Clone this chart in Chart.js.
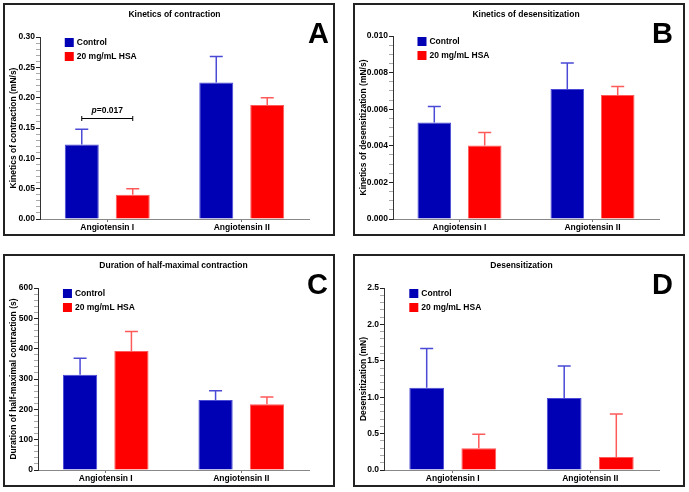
<!DOCTYPE html>
<html>
<head>
<meta charset="utf-8">
<script src="https://cdn.jsdelivr.net/npm/chart.js@4.4.0/dist/chart.umd.min.js"></script>
<style>
  body { margin: 0; background: #fff; }
  .panel { position: absolute; width: 332px; height: 233px; border: 2px solid #222; box-sizing: border-box; background: #fff; }
  canvas { display: block; }
</style>
</head>
<body>
<div class="panel" style="left:3px;top:3px"><canvas id="chartA" width="328" height="229"></canvas></div>
<div class="panel" style="left:353px;top:3px"><canvas id="chartB" width="328" height="229"></canvas></div>
<div class="panel" style="left:3px;top:254px"><canvas id="chartC" width="328" height="229"></canvas></div>
<div class="panel" style="left:353px;top:254px"><canvas id="chartD" width="328" height="229"></canvas></div>
<script>
// ===========================
// DATA
// ===========================
const categories = ["Angiotensin I", "Angiotensin II"];
const seriesNames = ["Control", "20 mg/mL HSA"];

// A - kinetics of contraction (mN/s), mean and upper error
const contractionControl = [0.123, 0.225];
const contractionControlErr = [0.025, 0.043];
const contractionHsa = [0.040, 0.188];
const contractionHsaErr = [0.010, 0.012];

// B - kinetics of desensitization (mN/s)
const desensKineticsControl = [0.00527, 0.00711];
const desensKineticsControlErr = [0.00088, 0.00141];
const desensKineticsHsa = [0.00401, 0.00677];
const desensKineticsHsaErr = [0.00071, 0.00047];

// C - duration of half-maximal contraction (s)
const durationControl = [314, 231];
const durationControlErr = [54, 30];
const durationHsa = [392, 217];
const durationHsaErr = [65, 24];

// D - desensitization (mN)
const desensControl = [1.13, 0.99];
const desensControlErr = [0.54, 0.44];
const desensHsa = [0.30, 0.18];
const desensHsaErr = [0.19, 0.59];

const FONT = "'Liberation Sans', Arial, sans-serif";
const BLUE = "#0000b4", BLUE_EDGE = "#4a4ad6";
const RED = "#ff0000", RED_EDGE = "#ff5a5a";

// ===========================
// DRAW TITLES, LEGEND, ERROR BARS
// ===========================
const panelDecor = {
    id: "panelDecor",
    afterDatasetsDraw(chart, args, opts) {
        const ctx = chart.ctx;
        const area = chart.chartArea;
        const y = chart.scales.y;

        // error bars (upper only)
        chart.data.datasets.forEach((ds, i) => {
            const meta = chart.getDatasetMeta(i);
            meta.data.forEach((bar, j) => {
                const top = y.getPixelForValue(ds.data[j] + ds.errors[j]);
                ctx.save();
                ctx.strokeStyle = ds.errorColor;
                ctx.lineWidth = 1.5;
                ctx.beginPath();
                ctx.moveTo(bar.x, bar.y);
                ctx.lineTo(bar.x, top);
                ctx.moveTo(bar.x - 6.5, top);
                ctx.lineTo(bar.x + 6.5, top);
                ctx.stroke();
                ctx.restore();
            });
        });

        ctx.save();
        ctx.fillStyle = "#000";

        // panel title
        ctx.font = "bold 8.5px " + FONT;
        ctx.textAlign = "center";
        ctx.textBaseline = "middle";
        ctx.fillText(opts.title, (area.left + area.right) / 2, 10);

        // panel letter
        ctx.font = "bold 29px " + FONT;
        ctx.textAlign = "right";
        ctx.textBaseline = "alphabetic";
        ctx.fillText(opts.letter, opts.letterX, 38);

        // legend inside plot, aligned with first bar
        const first = chart.getDatasetMeta(0).data[0];
        const lx = first.x - first.width / 2;
        chart.data.datasets.forEach((ds, i) => {
            const ly = area.top + 1 + i * 14;
            ctx.fillStyle = ds.backgroundColor;
            ctx.fillRect(lx, ly, 9, 9);
            ctx.fillStyle = "#000";
            ctx.font = "bold 8.5px " + FONT;
            ctx.textAlign = "left";
            ctx.textBaseline = "middle";
            ctx.fillText(ds.label, lx + 12, ly + 5);
        });

        // significance bracket
        if (opts.bracket) {
            const x1 = chart.getDatasetMeta(0).data[0].x;
            const x2 = chart.getDatasetMeta(1).data[0].x;
            const by = Math.round(y.getPixelForValue(opts.bracket.value)) + 0.5;
            ctx.strokeStyle = "#000";
            ctx.lineWidth = 1;
            ctx.beginPath();
            ctx.moveTo(x1, by); ctx.lineTo(x2, by);
            ctx.moveTo(x1, by - 2.5); ctx.lineTo(x1, by + 2.5);
            ctx.moveTo(x2, by - 2.5); ctx.lineTo(x2, by + 2.5);
            ctx.stroke();
            ctx.font = "bold italic 8.5px " + FONT;
            const pW = ctx.measureText("p").width;
            ctx.font = "bold 8.5px " + FONT;
            const restW = ctx.measureText("=" + opts.bracket.text).width;
            const sx = (x1 + x2) / 2 - (pW + restW) / 2;
            ctx.textAlign = "left";
            ctx.textBaseline = "alphabetic";
            ctx.font = "bold italic 8.5px " + FONT;
            ctx.fillText("p", sx, by - 6);
            ctx.font = "bold 8.5px " + FONT;
            ctx.fillText("=" + opts.bracket.text, sx + pW, by - 6);
        }
        ctx.restore();
    }
};

// ===========================
// BUILD ONE PANEL
// ===========================
function drawPanel(id, cfg) {
    const ctx = document.getElementById(id).getContext("2d");
    const isMajor = v => Math.abs(v / cfg.major - Math.round(v / cfg.major)) < 1e-6;

    return new Chart(ctx, {
        type: "bar",
        data: {
            labels: categories,
            datasets: [
                {
                    label: seriesNames[0],
                    data: cfg.control,
                    errors: cfg.controlErr,
                    backgroundColor: BLUE,
                    borderColor: BLUE_EDGE,
                    errorColor: BLUE_EDGE,
                    borderWidth: 1,
                    borderSkipped: "bottom",
                    categoryPercentage: 0.758,
                    barPercentage: 0.667
                },
                {
                    label: seriesNames[1],
                    data: cfg.hsa,
                    errors: cfg.hsaErr,
                    backgroundColor: RED,
                    borderColor: RED_EDGE,
                    errorColor: RED_EDGE,
                    borderWidth: 1,
                    borderSkipped: "bottom",
                    categoryPercentage: 0.758,
                    barPercentage: 0.667
                }
            ]
        },
        options: {
            responsive: false,
            animation: false,
            layout: { padding: { top: cfg.top, right: 24, left: 0, bottom: 0 } },
            plugins: {
                legend: { display: false },
                tooltip: { enabled: false },
                panelDecor: { title: cfg.title, letter: cfg.letter, letterX: cfg.letterX, bracket: cfg.bracket }
            },
            scales: {
                x: {
                    afterFit: s => { s.height = 15; },
                    grid: { display: true, drawOnChartArea: false, offset: false, tickLength: 3, tickColor: "#777" },
                    border: { display: true, color: "#888", width: 1 },
                    ticks: { color: "#000", padding: 1, font: { family: FONT, size: 8.5, weight: "bold" } }
                },
                y: {
                    min: 0,
                    max: cfg.max,
                    afterFit: s => { s.width = cfg.axisWidth; },
                    ticks: {
                        stepSize: cfg.minor,
                        autoSkip: false,
                        color: "#000",
                        padding: 1,
                        font: { family: FONT, size: 8.5, weight: "bold" },
                        callback: v => isMajor(v) ? v.toFixed(cfg.decimals) : ""
                    },
                    grid: {
                        display: true,
                        drawOnChartArea: false,
                        tickLength: 4,
                        tickColor: c => isMajor(c.tick.value) ? "#222" : "#aaa",
                        tickWidth: 1
                    },
                    border: { display: true, color: "#333", width: 1 },
                    title: {
                        display: true,
                        text: cfg.yTitle,
                        color: "#000",
                        padding: { top: 4, bottom: 0 },
                        font: { family: FONT, size: 8.5, weight: "bold" }
                    }
                }
            }
        },
        plugins: [panelDecor]
    });
}

drawPanel("chartA", {
    title: "Kinetics of contraction", letter: "A", letterX: 324,
    yTitle: "Kinetics of contraction (mN/s)",
    control: contractionControl, controlErr: contractionControlErr,
    hsa: contractionHsa, hsaErr: contractionHsaErr,
    max: 0.30, major: 0.05, minor: 0.01, decimals: 2,
    axisWidth: 35, top: 32,
    bracket: { value: 0.1665, text: "0.017" }
});

drawPanel("chartB", {
    title: "Kinetics of desensitization", letter: "B", letterX: 318,
    yTitle: "Kinetics of desensitization (mN/s)",
    control: desensKineticsControl, controlErr: desensKineticsControlErr,
    hsa: desensKineticsHsa, hsaErr: desensKineticsHsaErr,
    max: 0.010, major: 0.002, minor: 0.0005, decimals: 3,
    axisWidth: 38, top: 31
});

drawPanel("chartC", {
    title: "Duration of half-maximal contraction", letter: "C", letterX: 323,
    yTitle: "Duration of half-maximal contraction (s)",
    control: durationControl, controlErr: durationControlErr,
    hsa: durationHsa, hsaErr: durationHsaErr,
    max: 600, major: 100, minor: 20, decimals: 0,
    axisWidth: 33, top: 32
});

drawPanel("chartD", {
    title: "Desensitization", letter: "D", letterX: 318,
    yTitle: "Desensitization (mN)",
    control: desensControl, controlErr: desensControlErr,
    hsa: desensHsa, hsaErr: desensHsaErr,
    max: 2.5, major: 0.5, minor: 0.1, decimals: 1,
    axisWidth: 29, top: 32
});
</script>
</body>
</html>
